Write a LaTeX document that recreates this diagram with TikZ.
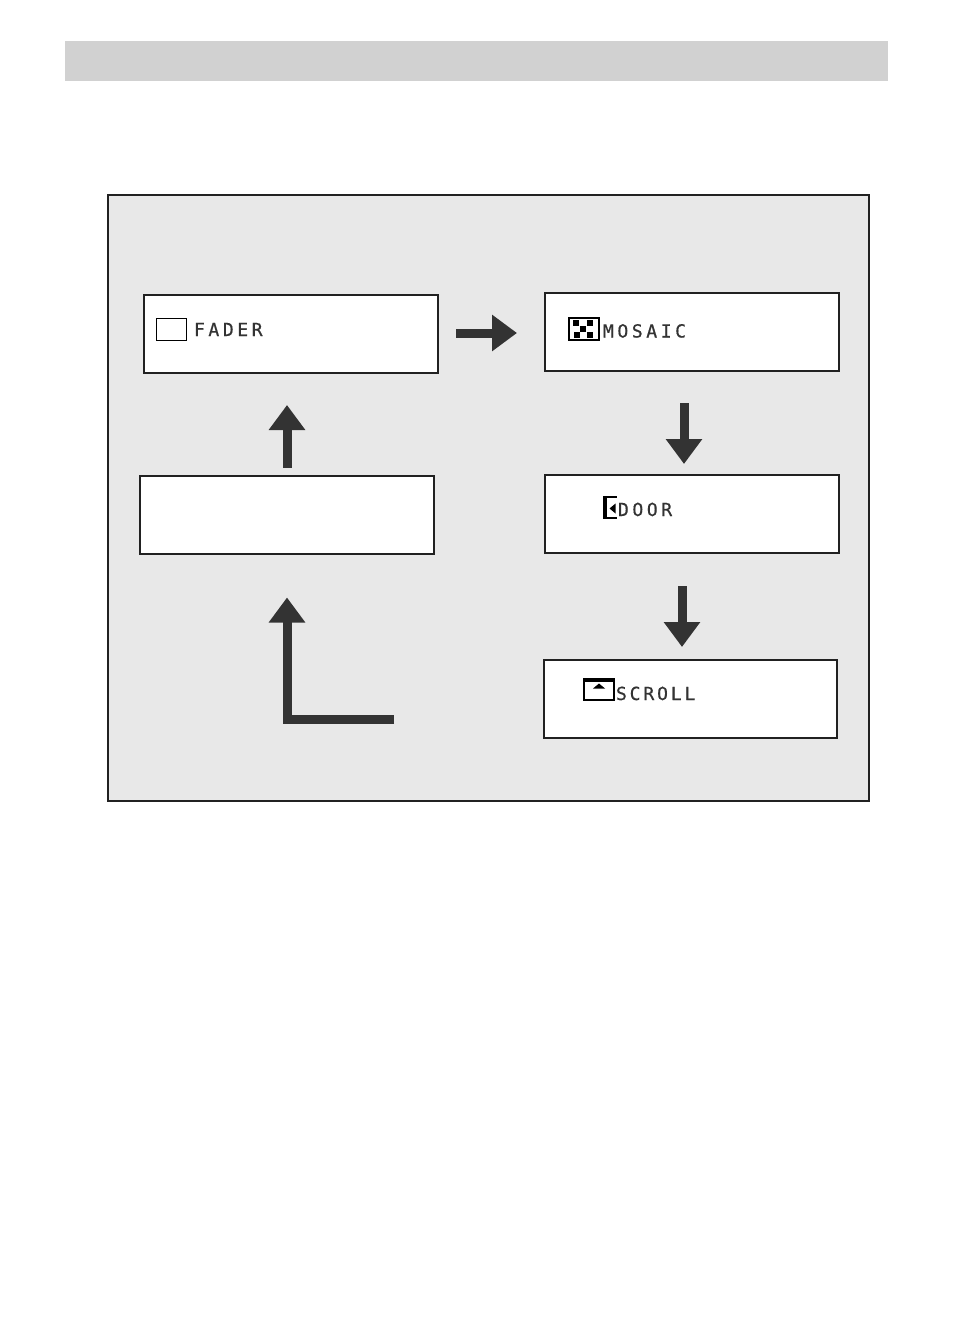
\documentclass[tikz,border=0pt]{standalone}
\usepackage{fontspec}
\usetikzlibrary{arrows.meta}
\newfontfamily\lcdfont[LetterSpace=20,FakeBold=0.6]{DejaVu Sans Mono}

\begin{document}
\begin{tikzpicture}[
    x = 1pt, y = -1pt,
    every node/.style = {inner sep = 0pt, outer sep = 0pt},
    modebox/.style = {draw = black!87, line width = 2pt, fill = white,
        minimum width = 294pt, minimum height = 78pt},
    lcdlabel/.style = {anchor = base west, text = black!80, font = \lcdfont\fontsize{18pt}{18pt}\selectfont},
    flow/.style = {draw = black!80, line width = 9pt,
        -{Triangle[length = 25pt, width = 35pt]}},
    iconframe/.style = {draw = black, fill = white, line width = 2pt}]

\useasboundingbox (0,0) rectangle (954,1340);
\fill[black!18] (65,41) rectangle (888,81);
\draw[draw = black!87, fill = black!9, line width = 2pt] (108,195) rectangle (869,801);

\node[modebox] (fader) at (291,334) {};
\node[modebox] (mosaic) at (692,332) {};
\node[modebox] (door) at (692,514) {};
\node[modebox, minimum width = 293pt] (scroll) at (690.5,699) {};
\node[modebox] (blank) at (287,514.5) {};

\node[lcdlabel] (faderlabel) at (194,336) {FADER};
\node[lcdlabel] (mosaiclabel) at (603,337.5) {MOSAIC};
\node[lcdlabel] (doorlabel) at (618,516) {DOOR};
\node[lcdlabel] (scrolllabel) at (616,700) {\addfontfeature{LetterSpace=16}SCROLL};

% icons
\draw[draw = black, line width = 1.5pt] (156.5,318.5) rectangle (186.5,340.5);

\draw[iconframe] (569,318) rectangle (599,340);
\foreach \cx/\cy in {576/323, 590/323, 583/329, 577/335, 590/335}
	\fill (\cx-3,\cy-3) rectangle (\cx+3,\cy+3);

\fill (603,496) rectangle (617,519);
\fill[white] (607,498) rectangle (617,517);
\fill (615.5,503.5) -- (615.5,513.5) -- (609.5,508.5) -- cycle;

\draw[iconframe] (584,679) rectangle (614,700);
\fill (583,678) rectangle (615,682);
\fill (593,688.5) -- (605,688.5) -- (599,683.5) -- cycle;

% arrows
\coordinate (elbowend) at (394,719.5);
\draw[flow, shorten <= 18pt, shorten >= 28pt] ([yshift = 1pt]fader.east) -- ([yshift = 1pt]fader.east -| mosaic.west);
\draw[flow, shorten <= 32pt, shorten >= 11pt] ([xshift = -8pt]mosaic.south) -- ([xshift = -8pt]door.north);
\draw[flow, shorten <= 33pt, shorten >= 13pt] ([xshift = -10pt]door.south) -- ([xshift = -10pt]door.south |- scroll.north);
\draw[flow, shorten <= 8pt, shorten >= 32pt] (blank.north) -- (blank.north |- fader.south);
\draw[flow, shorten >= 44pt] (elbowend) -| (blank.south);
\end{tikzpicture}
\end{document}
